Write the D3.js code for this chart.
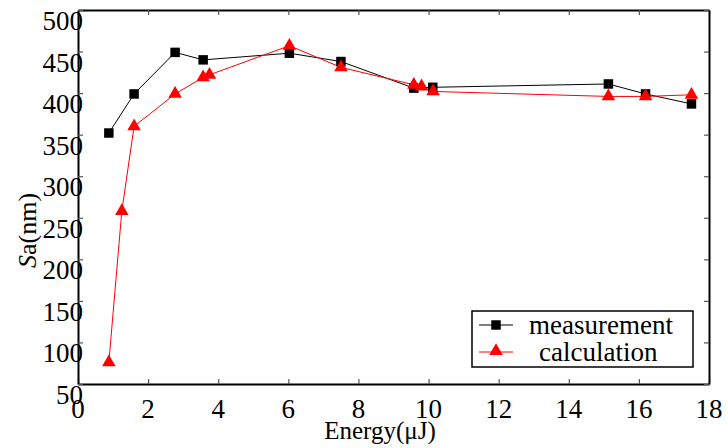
<!DOCTYPE html>
<html>
<head>
<meta charset="utf-8">
<script src="https://cdn.jsdelivr.net/npm/d3@7"></script>
<style>
  body { margin: 0; background: #fff; }
</style>
</head>
<body>
<div id="chart"></div>
<script>
// measurement (black squares)
var measEnergy = [0.88, 1.6, 2.77, 3.57, 6.03, 7.5, 9.58, 10.12, 15.13, 16.19, 17.5];
var measSa     = [352, 399, 449, 440, 448, 438, 406, 407, 411, 399, 387];
// calculation (red triangles)
var calcEnergy = [0.88, 1.25, 1.6, 2.77, 3.57, 3.75, 6.03, 7.5, 9.58, 9.8, 10.13, 15.13, 16.19, 17.5];
var calcSa     = [76, 258, 360, 399, 419, 422, 457, 431, 410, 408, 402, 396, 396, 398];

var xTicks = [0, 2, 4, 6, 8, 10, 12, 14, 16, 18];
var yTicks = [50, 100, 150, 200, 250, 300, 350, 400, 450, 500];

(function(){
  var width = 728, height = 448;
  var pl = 78, pr = 709, pt = 10, pb = 384;
  var serif = "'Liberation Serif', 'Times New Roman', serif";

  var svg = d3.select("#chart").append("svg")
    .attr("width", width)
    .attr("height", height)
    .attr("font-family", serif);

  var x = d3.scaleLinear().domain([0, 18]).range([pl, pr]);
  var y = d3.scaleLinear().domain([50, 500]).range([pb, pt]);

  // frame with inward ticks on all four sides
  svg.append("g").attr("transform", "translate(0," + pb + ")")
    .call(d3.axisBottom(x).tickValues(xTicks).tickSizeInner(-5).tickSizeOuter(0).tickFormat(""));
  svg.append("g").attr("transform", "translate(0," + pt + ")")
    .call(d3.axisTop(x).tickValues(xTicks).tickSizeInner(-5).tickSizeOuter(0).tickFormat(""));
  svg.append("g").attr("transform", "translate(" + pl + ",0)")
    .call(d3.axisLeft(y).tickValues(yTicks).tickSizeInner(-5).tickSizeOuter(0).tickFormat(""));
  svg.append("g").attr("transform", "translate(" + pr + ",0)")
    .call(d3.axisRight(y).tickValues(yTicks).tickSizeInner(-5).tickSizeOuter(0).tickFormat(""));
  svg.selectAll(".domain").attr("stroke", "#000").attr("stroke-width", 2);
  svg.selectAll(".tick line").attr("stroke", "#555").attr("stroke-width", 1.2);

  // tick labels
  svg.selectAll(".xlab").data(xTicks).enter().append("text")
    .attr("font-family", serif)
    .attr("x", function(d){ return x(d); })
    .attr("y", 418)
    .attr("text-anchor", "middle")
    .attr("font-size", 27)
    .text(function(d){ return d; });

  svg.selectAll(".ylab").data(yTicks).enter().append("text")
    .attr("font-family", serif)
    .attr("x", 83)
    .attr("y", function(d){ return y(d) + 20; })
    .attr("text-anchor", "end")
    .attr("font-size", 27)
    .text(function(d){ return d; });

  // axis titles
  svg.append("text")
    .attr("font-family", serif)
    .attr("x", 380).attr("y", 439)
    .attr("text-anchor", "middle")
    .attr("font-size", 25)
    .text("Energy(\u03bcJ)");

  var yt = svg.append("text")
    .attr("font-family", serif)
    .attr("transform", "translate(36,268) rotate(-90)")
    .attr("text-anchor", "start")
    .attr("font-size", 26);
  yt.append("tspan").attr("font-style", "italic").text("S");
  yt.append("tspan").text("a(nm)");

  // series
  var meas = measEnergy.map(function(e, i){ return {x: e, y: measSa[i]}; });
  var calc = calcEnergy.map(function(e, i){ return {x: e, y: calcSa[i]}; });

  var line = d3.line()
    .x(function(d){ return x(d.x); })
    .y(function(d){ return y(d.y); });

  svg.append("path").datum(meas)
    .attr("d", line).attr("fill", "none").attr("stroke", "#000").attr("stroke-width", 1);
  svg.append("path").datum(calc)
    .attr("d", line).attr("fill", "none").attr("stroke", "#ff0000").attr("stroke-width", 1);

  var sq = d3.symbol().type(d3.symbolSquare).size(90);
  var tri = d3.symbol().type(d3.symbolTriangle).size(80);

  svg.selectAll(".meas").data(meas).enter().append("path")
    .attr("d", sq)
    .attr("transform", function(d){ return "translate(" + x(d.x) + "," + y(d.y) + ")"; })
    .attr("fill", "#000");

  svg.selectAll(".calc").data(calc).enter().append("path")
    .attr("d", tri)
    .attr("transform", function(d){ return "translate(" + x(d.x) + "," + y(d.y) + ")"; })
    .attr("fill", "#ff0000");

  // legend
  var lg = svg.append("g");
  lg.append("rect")
    .attr("x", 472).attr("y", 311).attr("width", 221).attr("height", 56)
    .attr("fill", "#fff").attr("stroke", "#000").attr("stroke-width", 1.5);

  lg.append("line").attr("x1", 479).attr("x2", 513).attr("y1", 325).attr("y2", 325)
    .attr("stroke", "#000").attr("stroke-width", 1);
  lg.append("path").attr("d", sq).attr("transform", "translate(496,325)").attr("fill", "#000");
  lg.append("text").attr("font-family", serif).attr("x", 529).attr("y", 334).attr("font-size", 27).text("measurement");

  lg.append("line").attr("x1", 479).attr("x2", 513).attr("y1", 352).attr("y2", 352)
    .attr("stroke", "#ff0000").attr("stroke-width", 1);
  lg.append("path").attr("d", tri).attr("transform", "translate(496,351)").attr("fill", "#ff0000");
  lg.append("text").attr("font-family", serif).attr("x", 539).attr("y", 361).attr("font-size", 27).text("calculation");
})();
</script>
</body>
</html>
